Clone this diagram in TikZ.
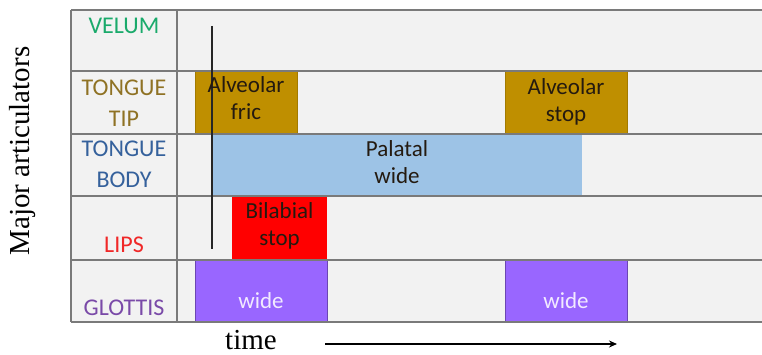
\documentclass[tikz,border=0pt]{standalone}
\usepackage{fontspec}
\setmainfont{Liberation Serif}
\newfontfamily\labelfont{Carlito}
\usetikzlibrary{arrows.meta}

\definecolor{cellbg}{HTML}{F2F2F2}
\definecolor{gridc}{HTML}{7A7A7A}
\definecolor{tipbox}{HTML}{BF8F00}
\definecolor{bodybox}{HTML}{9DC3E6}
\definecolor{lipbox}{HTML}{FF0000}
\definecolor{glotbox}{HTML}{9966FF}
\definecolor{velumc}{HTML}{1AAA6B}
\definecolor{tipc}{HTML}{8F7224}
\definecolor{bodyc}{HTML}{35619C}
\definecolor{lipc}{HTML}{F02828}
\definecolor{glotc}{HTML}{7A4AA8}
\definecolor{darktext}{HTML}{241A10}
\definecolor{widetext}{HTML}{F2EAFF}

\tikzset{
  x=1pt, y=-1pt,
  gridline/.style={draw=gridc, line width=1.4pt},
  bar/.style={anchor=north west, inner sep=0pt, outer sep=0pt},
  rowlab/.style={font=\labelfont\fontsize{24}{31}\selectfont, align=center, inner sep=0pt},
  bartext/.style={font=\labelfont\fontsize{23}{27}\selectfont, align=center, inner sep=0pt, text=darktext},
  axislab/.style={font=\fontsize{29}{34}\selectfont, inner sep=0pt},
}

\begin{document}
\begin{tikzpicture}
\useasboundingbox (0,0) rectangle (762,355);

% table background
\fill[cellbg] (71,10) rectangle (762,322);

% gestures
\node[bar, fill=tipbox, draw=tipbox!85!black, line width=0.4pt,
      minimum width=102pt, minimum height=63pt] (fric) at (195,71) {};
\node[bar, fill=tipbox, draw=tipbox!85!black, line width=0.4pt,
      minimum width=122pt, minimum height=63pt] (tstop) at (505,71) {};
\node[bar, fill=bodybox, minimum width=370pt, minimum height=62pt] (pal) at (212,134) {};
\node[bar, fill=lipbox, minimum width=95pt, minimum height=64pt] (bilab) at (232,196) {};
\node[bar, fill=glotbox, draw=glotbox!70!black, line width=0.5pt,
      minimum width=132pt, minimum height=62pt] (glot1) at (195,260) {};
\node[bar, fill=glotbox, draw=glotbox!70!black, line width=0.5pt,
      minimum width=122pt, minimum height=62pt] (glot2) at (505,260) {};

% grid
\foreach \yy in {10,71,134,196,260,322}
  \draw[gridline] (71,\yy) -- (762,\yy);
\draw[gridline] (71,10) -- (71,322);
\draw[gridline] (177,10) -- (177,322);

% reference instant
\coordinate (m0) at (212,26);
\coordinate (m1) at (212,249);
\draw[line width=1.6pt, color=black!85] (m0) -- (m1);

% row labels
\node[rowlab, text=velumc, anchor=base] (velum) at (124,34) {VELUM};
\node[rowlab, text=tipc] (tip) at (124,102.75) {TONGUE\\TIP};
\node[rowlab, text=bodyc] (body) at (124,164.75) {TONGUE\\BODY};
\node[rowlab, text=lipc, anchor=base] (lips) at (124,252) {LIPS};
\node[rowlab, text=glotc, anchor=base] (glottis) at (124,315) {GLOTTIS};

% gesture texts
\node[bartext] (fricT) at (246,98.5) {Alveolar\\fric};
\node[bartext] (tstopT) at (566,102) {Alveolar\\stop};
\node[bartext] (palT) at (397,162.5) {Palatal\\wide};
\node[bartext] (bilabT) at (279.5,226) {Bilabial\\stop};
\node[bartext, text=widetext, anchor=base] (glot1T) at (261,308) {wide};
\node[bartext, text=widetext, anchor=base] (glot2T) at (566,308) {wide};

% axes
\node[axislab, anchor=base] (timeT) at (251,349) {time};
\node[axislab, anchor=base, rotate=90] (majT) at (29,151) {Major articulators};
\coordinate (t0) at (325,344);
\coordinate (t1) at (617,344);
\draw[line width=1.4pt, -{Stealth[length=8pt,width=7pt]}] (t0) -- (t1);
\end{tikzpicture}
\end{document}
